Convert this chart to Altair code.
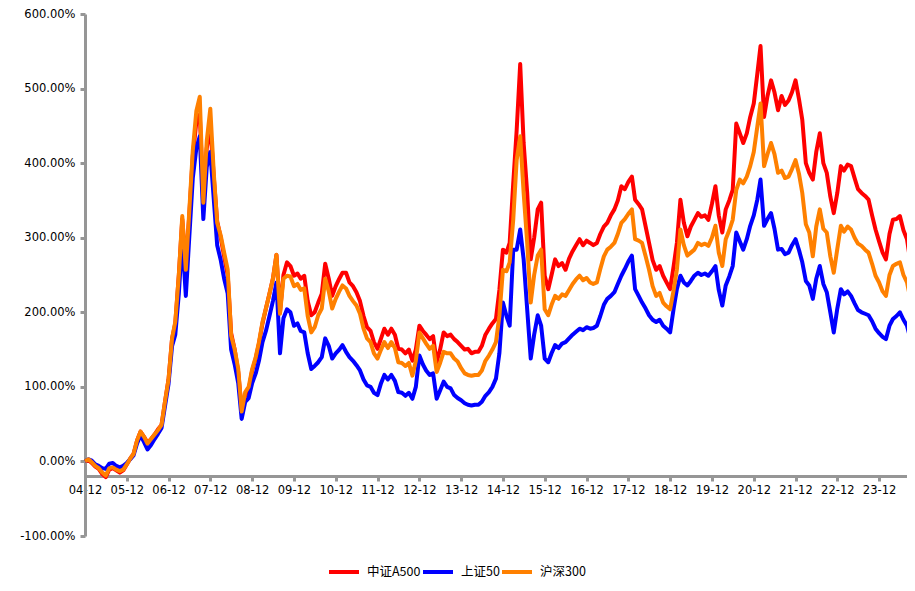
import altair as alt
import pandas as pd

series_names = ["中证A500", "上证50", "沪深300"]
series_colors = ["#FF0000", "#0000FF", "#FF8000"]

# cumulative return (%), month by month from 2004-12 to 2024-08
a500 = [0,
    2, -2, -7, -10, -17, -21, -11, -9, -12, -15, -12, -4,
    4, 10, 28, 40, 33, 25, 30, 36, 43, 49, 80, 110,
    165, 185, 250, 325, 262, 330, 410, 455, 465, 350, 420, 450,
    380, 322, 300, 275, 250, 172, 150, 120, 70, 88, 95, 122,
    138, 158, 185, 205, 225, 245, 277, 200, 250, 267, 262, 249,
    252, 245, 249, 215, 196, 200, 213, 225, 265, 245, 222, 235,
    245, 253, 253, 240, 235, 227, 215, 195, 180, 175, 160, 151,
    165, 178, 170, 178, 170, 151, 150, 145, 150, 135, 150, 182,
    175, 170, 164, 168, 133, 150, 173, 168, 170, 164, 160, 155,
    150, 151, 145, 147, 147, 155, 170, 178, 185, 191, 230, 284,
    280, 293, 373, 444, 533, 427, 360, 271, 300, 338, 347, 249,
    231, 250, 271, 262, 266, 257, 272, 282, 290, 298, 290, 296,
    293, 290, 293, 305, 315, 320, 330, 338, 350, 369, 365, 375,
    382, 351, 345, 338, 315, 293, 270, 257, 262, 249, 240, 231,
    262, 293, 351, 320, 302, 315, 324, 333, 328, 330, 324, 345,
    369, 330, 307, 338, 350, 364, 453, 440, 427, 440, 462, 480,
    520, 557, 462, 490, 511, 495, 471, 490, 478, 484, 495, 511,
    485, 458, 400, 387, 378, 415, 440, 400, 387, 355, 333, 360,
    396, 390, 398, 396, 380, 365, 360, 356, 351, 330, 311, 295,
    280, 271, 305, 324, 325, 329, 310, 298, 267]

sz50 = [0,
    3, 1, -4, -6, -9, -10, -3, -2, -6, -8, -6, -2,
    3, 8, 24, 35, 26, 16, 22, 30, 37, 45, 74, 104,
    155, 170, 225, 300, 222, 300, 380, 420, 436, 325, 395, 415,
    350, 290, 270, 245, 225, 150, 130, 105, 57, 80, 85, 105,
    118, 135, 160, 175, 195, 215, 240, 145, 192, 204, 200, 182,
    185, 175, 173, 145, 124, 128, 133, 140, 165, 155, 138, 145,
    150, 156, 147, 140, 135, 129, 122, 110, 102, 100, 92, 89,
    105, 116, 110, 116, 108, 93, 92, 88, 92, 84, 100, 142,
    130, 122, 116, 118, 84, 95, 107, 100, 98, 89, 85, 82,
    78, 76, 75, 76, 76, 80, 88, 93, 100, 111, 145, 213,
    195, 182, 284, 284, 311, 271, 204, 138, 170, 196, 182, 138,
    133, 145, 156, 152, 158, 160, 165, 170, 174, 178, 176, 180,
    178, 179, 182, 195, 210, 218, 222, 227, 238, 249, 258, 268,
    276, 231, 222, 213, 205, 196, 190, 187, 190, 182, 178, 173,
    205, 231, 249, 240, 236, 242, 249, 253, 250, 252, 249, 255,
    262, 230, 209, 236, 248, 262, 307, 295, 284, 298, 316, 330,
    351, 378, 316, 325, 333, 312, 284, 285, 278, 280, 290, 298,
    283, 267, 242, 236, 218, 245, 262, 238, 227, 200, 173, 205,
    231, 224, 228, 222, 212, 203, 200, 198, 196, 188, 178, 172,
    167, 164, 182, 191, 195, 200, 190, 182, 164]

hs300 = [0,
    3, -1, -6, -9, -15, -19, -9, -8, -11, -13, -11, -4,
    4, 10, 28, 40, 33, 24, 30, 36, 42, 49, 80, 110,
    165, 187, 250, 329, 257, 335, 417, 470, 489, 347, 430, 473,
    385, 320, 303, 280, 257, 169, 150, 124, 67, 93, 100, 124,
    140, 160, 187, 205, 225, 245, 277, 198, 245, 249, 248, 235,
    238, 230, 232, 195, 173, 180, 196, 205, 245, 228, 205, 218,
    228, 236, 232, 222, 215, 209, 198, 178, 165, 160, 145, 138,
    150, 160, 152, 160, 152, 133, 132, 128, 132, 115, 135, 173,
    165, 158, 151, 155, 120, 132, 147, 145, 145, 138, 134, 125,
    118, 116, 115, 116, 116, 122, 135, 142, 150, 160, 195, 257,
    255, 267, 324, 404, 436, 360, 293, 213, 250, 276, 284, 204,
    196, 210, 222, 218, 224, 222, 230, 238, 244, 249, 243, 246,
    240, 238, 240, 258, 275, 284, 288, 293, 305, 320, 325, 332,
    338, 298, 296, 293, 275, 257, 235, 222, 226, 213, 208, 204,
    230, 257, 311, 290, 276, 280, 284, 293, 290, 292, 289, 300,
    316, 280, 262, 298, 310, 324, 364, 378, 373, 382, 396, 415,
    449, 480, 396, 412, 427, 412, 387, 390, 380, 382, 392, 404,
    385, 360, 318, 307, 275, 315, 338, 312, 307, 275, 253, 285,
    316, 308, 315, 311, 300, 292, 289, 284, 280, 265, 249, 240,
    228, 222, 250, 262, 265, 267, 250, 240, 218]

dates = (pd.date_range("2004-12-01", periods=len(a500), freq="MS") + pd.offsets.MonthEnd(0)).strftime("%Y-%m-%d")

rows = []
for name, vals in zip(series_names, [a500, sz50, hs300]):
    for d, v in zip(dates, vals):
        rows.append({"date": d, "series": name, "value": v / 100.0})
df = pd.DataFrame(rows)

tick_dates = [alt.DateTime(year=y, month=12, date=31) for y in range(2004, 2024)]
axis_gray = "#969696"
font = "DejaVu Sans"

color = alt.Color(
    "series:N",
    scale=alt.Scale(domain=series_names, range=series_colors),
    legend=alt.Legend(
        title=None, orient="none", legendX=242, legendY=541, direction="horizontal",
        symbolType="stroke", symbolSize=900, symbolStrokeWidth=4,
        labelFont="Noto Sans CJK SC", labelFontSize=12.5, labelColor="#000000",
        labelOffset=6, columnPadding=-8, padding=0, labelLimit=200, gridAlign="each",
    ),
)

x = alt.X(
    "date:T",
    scale=alt.Scale(domain=[alt.DateTime(year=2004, month=12, date=31), alt.DateTime(year=2024, month=8, date=31)]),
    axis=alt.Axis(
        values=tick_dates, format="%y-%m", formatType="time", title=None, grid=False,
        offset=-60, domainColor=axis_gray, domainWidth=3, tickColor=axis_gray, tickWidth=3,
        tickSize=5, labelPadding=3, labelFont=font, labelFontSize=11.5, labelColor="#000000",
        labelFlush=False, labelOverlap=False,
    ),
)
y = alt.Y(
    "value:Q",
    scale=alt.Scale(domain=[-1, 6], nice=False),
    axis=alt.Axis(
        values=[-1, 0, 1, 2, 3, 4, 5, 6], title=None, grid=False,
        labelExpr="(datum.value < 0 ? '-' : '') + format(abs(datum.value), '.2%')",
        domainColor=axis_gray, domainWidth=3, tickColor=axis_gray, tickWidth=3,
        tickSize=5, labelPadding=5, labelFont=font, labelFontSize=11.5, labelColor="#000000",
    ),
)

base = alt.Chart(df).mark_line(strokeWidth=4, strokeJoin="round").encode(x=x, y=y, color=color)
layers = [base.transform_filter(alt.datum.series == s) for s in series_names]

chart = alt.layer(*layers).properties(
    width=822, height=522,
    padding={"left": 77, "top": 6, "right": 0, "bottom": 55},
    autosize=alt.AutoSizeParams(type="none"),
    view=alt.ViewBackground(stroke="transparent", strokeWidth=0, strokeOpacity=0),
).configure(background="#ffffff").configure_view(
    stroke="transparent", strokeWidth=0, strokeOpacity=0
).configure_axis(gridOpacity=0)

chart.save("out.html", embed_options={"renderer": "svg", "actions": False})
